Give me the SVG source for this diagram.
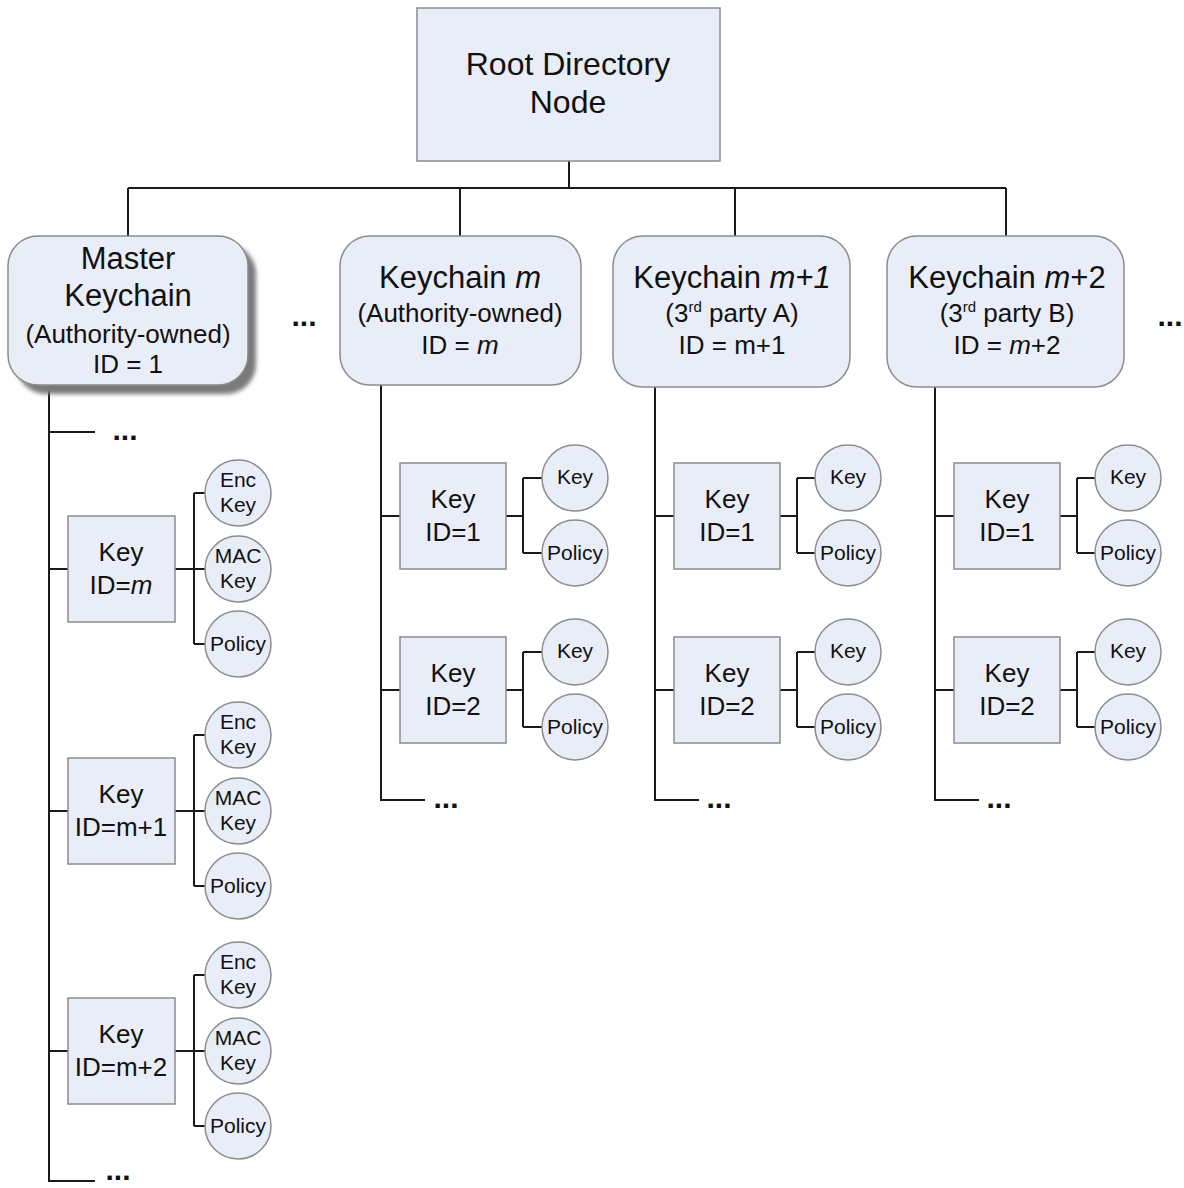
<svg xmlns="http://www.w3.org/2000/svg" width="1184" height="1188" viewBox="0 0 1184 1188">
<defs>
<style>
.box{fill:#e9edf7;stroke:#8c8c8c;stroke-width:1.5}
.ln{fill:none;stroke:#1a1a1a;stroke-width:2}
text{font-family:"Liberation Sans",Arial,sans-serif;fill:#111;text-anchor:middle}
.t32{font-size:32px}
.t31{font-size:31px}
.t26{font-size:26px}
.t24{font-size:26px}
.c{font-size:21px}
.dots{font-size:30px;font-weight:bold}
</style>
<filter id="sh" x="-10%" y="-10%" width="130%" height="130%"><feGaussianBlur stdDeviation="2"/></filter>
</defs>
<rect width="1184" height="1188" fill="#fff"/>

<g id="connectors" class="ln">
<path d="M569 161V188M128 188H1006M128 188V236M460 188V236M735 188V236M1006 188V236"/>
<path d="M49 385V1181H95M49 432H95M49 569H68M49 811H68M49 1051H68"/>
<path d="M175 569H194M194 493V644M194 493H205M194 644H205M194 569H205"/>
<path d="M175 811H194M194 735V886M194 735H205M194 886H205M194 811H205"/>
<path d="M175 1051H194M194 975V1126M194 975H205M194 1126H205M194 1051H205"/>
<path d="M381 385V800H425M381 516H400M381 690H400"/>
<path d="M506 516H523M523 478V553M523 478H542M523 553H542"/>
<path d="M506 690H523M523 652V727M523 652H542M523 727H542"/>
<path d="M655 387V800H699M655 516H674M655 690H674"/>
<path d="M780 516H797M797 478V553M797 478H815M797 553H815"/>
<path d="M780 690H797M797 652V727M797 652H815M797 727H815"/>
<path d="M935 387V800H979M935 516H954M935 690H954"/>
<path d="M1060 516H1077M1077 478V553M1077 478H1095M1077 553H1095"/>
<path d="M1060 690H1077M1077 652V727M1077 652H1095M1077 727H1095"/>
</g>

<g id="root">
<rect class="box" x="417" y="8" width="303" height="153"/>
<text class="t32" x="568" y="75">Root Directory</text>
<text class="t32" x="568" y="113">Node</text>
</g>

<g id="master-keychain">
<rect x="16" y="244" width="240" height="150" rx="30" fill="#7a7a7a" filter="url(#sh)"/>
<rect class="box" x="8" y="236" width="240" height="149" rx="30"/>
<text class="t31" x="128" y="269">Master</text>
<text class="t31" x="128" y="306">Keychain</text>
<text class="t26" x="128" y="343">(Authority-owned)</text>
<text class="t26" x="128" y="373">ID = 1</text>
</g>

<g id="keychain-m">
<rect class="box" x="340" y="236" width="241" height="149" rx="30"/>
<text class="t31" x="460" y="288">Keychain <tspan font-style="italic">m</tspan></text>
<text class="t26" x="460" y="322">(Authority-owned)</text>
<text class="t26" x="460" y="354">ID = <tspan font-style="italic">m</tspan></text>
</g>

<g id="keychain-m1">
<rect class="box" x="613" y="236" width="237" height="151" rx="30"/>
<text class="t31" x="732" y="288">Keychain <tspan font-style="italic">m+1</tspan></text>
<text class="t26" x="732" y="322">(3<tspan font-size="15" dy="-10">rd</tspan><tspan dy="10"> party A)</tspan></text>
<text class="t26" x="732" y="354">ID = m+1</text>
</g>

<g id="keychain-m2">
<rect class="box" x="887" y="236" width="237" height="151" rx="30"/>
<text class="t31" x="1007" y="288">Keychain <tspan font-style="italic">m</tspan>+2</text>
<text class="t26" x="1007" y="322">(3<tspan font-size="15" dy="-10">rd</tspan><tspan dy="10"> party B)</tspan></text>
<text class="t26" x="1007" y="354">ID = <tspan font-style="italic">m</tspan>+2</text>
</g>

<g id="ellipses">
<text class="dots" x="304" y="326">...</text>
<text class="dots" x="1170" y="326">...</text>
<text class="dots" x="125" y="440">...</text>
<text class="dots" x="118" y="1180">...</text>
<text class="dots" x="446" y="808">...</text>
<text class="dots" x="719" y="808">...</text>
<text class="dots" x="999" y="808">...</text>
</g>

<g id="key-m">
<rect class="box" x="68" y="516" width="107" height="106"/>
<text class="t24" x="121" y="561">Key</text>
<text class="t24" x="121" y="594">ID=<tspan font-style="italic">m</tspan></text>
</g>
<g id="key-m-enc"><circle class="box" cx="238" cy="493" r="33"/><text class="c" x="238" y="487">Enc</text><text class="c" x="238" y="512">Key</text></g>
<g id="key-m-mac"><circle class="box" cx="238" cy="569" r="33"/><text class="c" x="238" y="563">MAC</text><text class="c" x="238" y="588">Key</text></g>
<g id="key-m-policy"><circle class="box" cx="238" cy="644" r="33"/><text class="c" x="238" y="651">Policy</text></g>

<g id="key-m1">
<rect class="box" x="68" y="758" width="107" height="106"/>
<text class="t24" x="121" y="803">Key</text>
<text class="t24" x="121" y="836">ID=m+1</text>
</g>
<g id="key-m1-enc"><circle class="box" cx="238" cy="735" r="33"/><text class="c" x="238" y="729">Enc</text><text class="c" x="238" y="754">Key</text></g>
<g id="key-m1-mac"><circle class="box" cx="238" cy="811" r="33"/><text class="c" x="238" y="805">MAC</text><text class="c" x="238" y="830">Key</text></g>
<g id="key-m1-policy"><circle class="box" cx="238" cy="886" r="33"/><text class="c" x="238" y="893">Policy</text></g>

<g id="key-m2">
<rect class="box" x="68" y="998" width="107" height="106"/>
<text class="t24" x="121" y="1043">Key</text>
<text class="t24" x="121" y="1076">ID=m+2</text>
</g>
<g id="key-m2-enc"><circle class="box" cx="238" cy="975" r="33"/><text class="c" x="238" y="969">Enc</text><text class="c" x="238" y="994">Key</text></g>
<g id="key-m2-mac"><circle class="box" cx="238" cy="1051" r="33"/><text class="c" x="238" y="1045">MAC</text><text class="c" x="238" y="1070">Key</text></g>
<g id="key-m2-policy"><circle class="box" cx="238" cy="1126" r="33"/><text class="c" x="238" y="1133">Policy</text></g>

<g id="km-key1"><rect class="box" x="400" y="463" width="106" height="106"/><text class="t24" x="453" y="508">Key</text><text class="t24" x="453" y="541">ID=1</text></g>
<g id="km-key1-key"><circle class="box" cx="575" cy="478" r="33"/><text class="c" x="575" y="484">Key</text></g>
<g id="km-key1-policy"><circle class="box" cx="575" cy="553" r="33"/><text class="c" x="575" y="560">Policy</text></g>
<g id="km-key2"><rect class="box" x="400" y="637" width="106" height="106"/><text class="t24" x="453" y="682">Key</text><text class="t24" x="453" y="715">ID=2</text></g>
<g id="km-key2-key"><circle class="box" cx="575" cy="652" r="33"/><text class="c" x="575" y="658">Key</text></g>
<g id="km-key2-policy"><circle class="box" cx="575" cy="727" r="33"/><text class="c" x="575" y="734">Policy</text></g>

<g id="km1-key1"><rect class="box" x="674" y="463" width="106" height="106"/><text class="t24" x="727" y="508">Key</text><text class="t24" x="727" y="541">ID=1</text></g>
<g id="km1-key1-key"><circle class="box" cx="848" cy="478" r="33"/><text class="c" x="848" y="484">Key</text></g>
<g id="km1-key1-policy"><circle class="box" cx="848" cy="553" r="33"/><text class="c" x="848" y="560">Policy</text></g>
<g id="km1-key2"><rect class="box" x="674" y="637" width="106" height="106"/><text class="t24" x="727" y="682">Key</text><text class="t24" x="727" y="715">ID=2</text></g>
<g id="km1-key2-key"><circle class="box" cx="848" cy="652" r="33"/><text class="c" x="848" y="658">Key</text></g>
<g id="km1-key2-policy"><circle class="box" cx="848" cy="727" r="33"/><text class="c" x="848" y="734">Policy</text></g>

<g id="km2-key1"><rect class="box" x="954" y="463" width="106" height="106"/><text class="t24" x="1007" y="508">Key</text><text class="t24" x="1007" y="541">ID=1</text></g>
<g id="km2-key1-key"><circle class="box" cx="1128" cy="478" r="33"/><text class="c" x="1128" y="484">Key</text></g>
<g id="km2-key1-policy"><circle class="box" cx="1128" cy="553" r="33"/><text class="c" x="1128" y="560">Policy</text></g>
<g id="km2-key2"><rect class="box" x="954" y="637" width="106" height="106"/><text class="t24" x="1007" y="682">Key</text><text class="t24" x="1007" y="715">ID=2</text></g>
<g id="km2-key2-key"><circle class="box" cx="1128" cy="652" r="33"/><text class="c" x="1128" y="658">Key</text></g>
<g id="km2-key2-policy"><circle class="box" cx="1128" cy="727" r="33"/><text class="c" x="1128" y="734">Policy</text></g>
</svg>
